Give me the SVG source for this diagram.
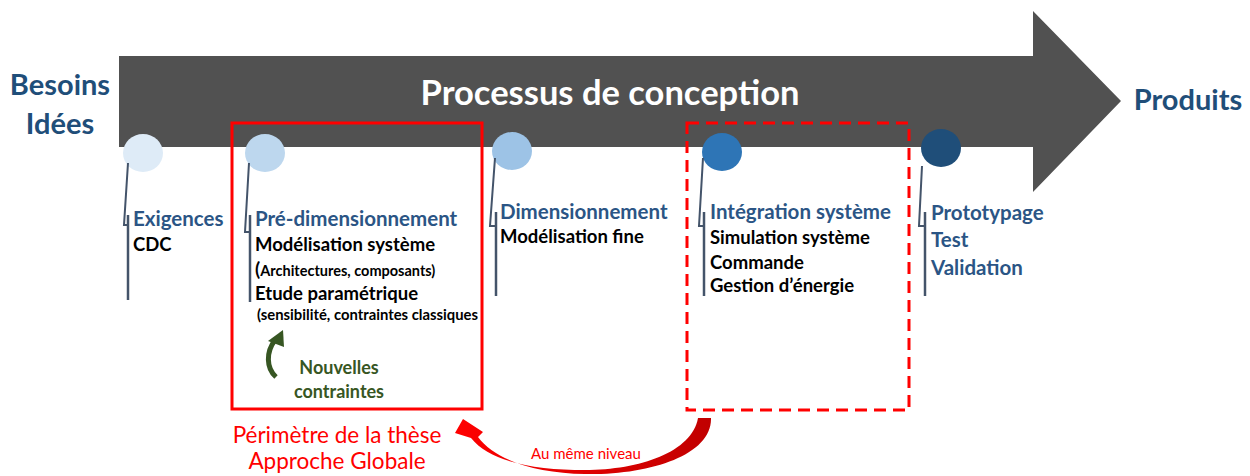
<svg xmlns="http://www.w3.org/2000/svg" width="1250" height="476" viewBox="0 0 1250 476">
<style>
.t{font-family:Lato,"Open Sans",sans-serif;font-weight:bold}
.h{fill:#1F4E79;font-size:29px}
.s{fill:#2B5585;font-size:20.5px}
.b{fill:#000;font-size:18.5px}
.sm{fill:#000;font-size:14.5px}
.g{fill:#375623;font-size:18px}
.r{font-family:Lato,"Open Sans",sans-serif;fill:#FF0000}
.lead{fill:none;stroke:#44546A;stroke-width:2}
.bar{stroke:#44546A;stroke-width:2.5}
</style>
<g id="arrow">
<polygon points="119,56 1033,56 1033,11 1121,101 1033,192 1033,147 119,147" fill="#515151"/>
<text class="t" x="610" y="105" text-anchor="middle" fill="#fff" font-size="34.5">Processus de conception</text>
</g>
<g id="besoins"><text class="t h" x="60" y="95" text-anchor="middle">Besoins</text><text class="t h" x="60" y="134" text-anchor="middle">Idées</text></g>
<g id="produits"><text class="t h" x="1188" y="110" text-anchor="middle">Produits</text></g>
<g id="exigences">
<ellipse cx="143" cy="153" rx="20" ry="19" fill="#DEEBF7"/>
<polyline class="lead" points="128,163 124,225 128,225"/>
<line class="bar" x1="128" y1="215" x2="128" y2="300"/>
<text class="t s" x="133" y="226">Exigences</text>
<text class="t b" x="133" y="251">CDC</text>
</g>
<g id="predim">
<ellipse cx="265" cy="153" rx="20" ry="19" fill="#BDD7EE"/>
<polyline class="lead" points="249,163 245,232 250,232"/>
<line class="bar" x1="250" y1="215" x2="250" y2="302"/>
<text class="t s" x="255" y="226">Pré-dimensionnement</text>
<text class="t b" x="255" y="251">Modélisation système</text>
<text class="t sm" x="255" y="276"><tspan font-size="19">(</tspan>Architectures, composants)</text>
<text class="t b" x="255" y="300">Etude paramétrique</text>
<text class="t sm" x="257" y="320" textLength="221" lengthAdjust="spacingAndGlyphs">(sensibilité, contraintes classiques</text>
</g>
<g id="dim">
<ellipse cx="512" cy="151" rx="20" ry="19" fill="#9DC3E6"/>
<polyline class="lead" points="495,158 490,226 496,226"/>
<line class="bar" x1="496" y1="212" x2="496" y2="296"/>
<text class="t s" x="500" y="219">Dimensionnement</text>
<text class="t b" x="500" y="243">Modélisation fine</text>
</g>
<g id="integ">
<ellipse cx="722" cy="152" rx="20" ry="19" fill="#2E75B6"/>
<polyline class="lead" points="703,158 699,226 704,226"/>
<line class="bar" x1="704" y1="212" x2="704" y2="296"/>
<text class="t s" x="710" y="219">Intégration système</text>
<text class="t b" x="710" y="244">Simulation système</text>
<text class="t b" x="710" y="269">Commande</text>
<text class="t b" x="710" y="292">Gestion d’énergie</text>
</g>
<g id="proto">
<ellipse cx="941" cy="148" rx="20" ry="19" fill="#1F4E79"/>
<polyline class="lead" points="922,166 919,226 925,226"/>
<line class="bar" x1="925" y1="212" x2="925" y2="296"/>
<text class="t s" x="931" y="220">Prototypage</text>
<text class="t s" x="931" y="247">Test</text>
<text class="t s" x="931" y="275">Validation</text>
</g>
<g id="perimetre">
<rect x="232" y="123" width="250" height="286" fill="none" stroke="#FF0000" stroke-width="3"/>
<text class="r" x="337" y="443" text-anchor="middle" font-size="22.5">Périmètre de la thèse</text>
<text class="r" x="337" y="469" text-anchor="middle" font-size="22.5">Approche Globale</text>
</g>
<g id="integration-box">
<rect x="687" y="123" width="222" height="287" fill="none" stroke="#FF0000" stroke-width="3" stroke-dasharray="12,7"/>
</g>
<g id="nouvelles">
<text class="t g" x="339" y="374" text-anchor="middle">Nouvelles</text>
<text class="t g" x="339" y="398" text-anchor="middle">contraintes</text>
</g>
<g id="connectors">
<path d="M276,377 C266,368 266,352 275,340" fill="none" stroke="#375623" stroke-width="5"/>
<polygon points="268,341 283,330 284,347" fill="#375623"/>
<defs><linearGradient id="rg" x1="0" y1="0" x2="1" y2="0"><stop offset="0" stop-color="#FF0000"/><stop offset="1" stop-color="#C00000"/></linearGradient></defs>
<path d="M711,418 C712,455 650,475 585,474 C535,473 495,460 478,437 L483,432 L463,419 L455,433 L471,438 C490,462 535,470 585,470 C640,470 692,452 698,418 Z" fill="url(#rg)"/>
<text class="r" x="586" y="459" text-anchor="middle" font-size="15">Au même niveau</text>
</g>
</svg>
